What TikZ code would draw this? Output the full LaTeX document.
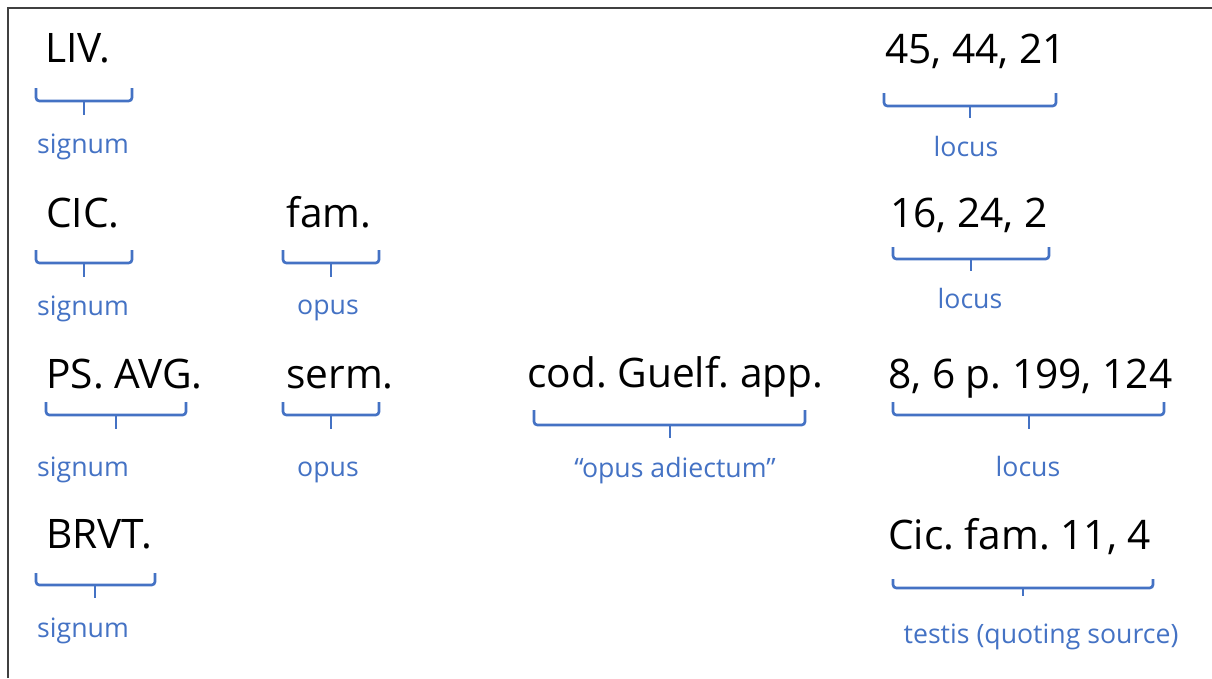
\documentclass[tikz,border=0pt]{standalone}
\usepackage{fontspec}
\setmainfont{Open Sans}
\usetikzlibrary{positioning}
\definecolor{bracketblue}{HTML}{4472C4}
\definecolor{framegray}{HTML}{404040}
\frenchspacing
\tikzset{
    word/.style={anchor=base west,inner sep=0pt,font=\fontsize{30.5}{36}\selectfont},
    role/.style={anchor=base,inner sep=0pt,text=bracketblue,font=\fontsize{20}{24}\selectfont},
    bracket/.style={draw=bracketblue,line width=2pt,rounded corners=2.5pt},
    tick/.style={draw=bracketblue,line width=2pt},
    frame/.style={draw=framegray,line width=1.5pt},
}

\begin{document}
\begin{tikzpicture}[x=0.75pt,y=-0.75pt]
    \useasboundingbox (0,0) rectangle (1212,678);
    \draw[frame] (8,678) -- (8,8) -- (1212,8);

    % row 1
    \node[word] (liv) at (45,62) {LIV.};
    \node[word] (livloc) at (885,63) {45, 44, 21};
    \draw[bracket] (36,88) |- (132,101) -- (132,88);
    \draw[tick] (84,101) -- (84,115);
    \draw[bracket] (884,93) |- (1056,106) -- (1056,93);
    \draw[tick] (970,106) -- (970,118);
    \node[role] (livsig) at (83,153) {signum};
    \node[role] (livlocus) at (966,156) {locus};

    % row 2
    \node[word] (cic) at (46,227) {CIC.};
    \node[word] (fam) at (286,227) {fam.};
    \node[word] (cicloc) at (890,227) {16, 24, 2};
    \draw[bracket] (36,250) |- (132,263) -- (132,250);
    \draw[tick] (84,263) -- (84,277);
    \draw[bracket] (283,250) |- (379,263) -- (379,250);
    \draw[tick] (331,263) -- (331,277);
    \draw[bracket] (893,247) |- (1049,259) -- (1049,247);
    \draw[tick] (971,259) -- (971,271);
    \node[role] (cicsig) at (83,315) {signum};
    \node[role] (famopus) at (328,314) {opus};
    \node[role] (ciclocus) at (970,308) {locus};

    % row 3
    \node[word] (psavg) at (46,388) {PS. AVG.};
    \node[word] (serm) at (286,388) {serm.};
    \node[word] (cod) at (527,387) {cod. Guelf. app.};
    \node[word] (psloc) at (888,388) {8, 6 p. 199, 124};
    \draw[bracket] (46,402) |- (186,415) -- (186,402);
    \draw[tick] (116,415) -- (116,429);
    \draw[bracket] (283,402) |- (379,415) -- (379,402);
    \draw[tick] (331,415) -- (331,429);
    \draw[bracket] (534,410) |- (805,425) -- (805,410);
    \draw[tick] (670,425) -- (670,438);
    \draw[bracket] (893,402) |- (1164,415) -- (1164,402);
    \draw[tick] (1029,415) -- (1029,429);
    \node[role] (pssig) at (83,476) {signum};
    \node[role] (sermopus) at (328,476) {opus};
    \node[role] (codadi) at (675,477) {“opus adiectum”};
    \node[role] (pslocus) at (1028,476) {locus};

    % row 4
    \node[word] (brvt) at (46,548) {BRVT.};
    \node[word] (testis) at (888,549) {Cic. fam. 11, 4};
    \draw[bracket] (36,573) |- (155,585) -- (155,573);
    \draw[tick] (95,585) -- (95,598);
    \draw[bracket] (893,579) |- (1153,588) -- (1153,579);
    \draw[tick] (1023,588) -- (1023,596);
    \node[role] (brvtsig) at (83,637) {signum};
    \node[role] (testissrc) at (1041,643) {testis (quoting source)};
\end{tikzpicture}
\end{document}
